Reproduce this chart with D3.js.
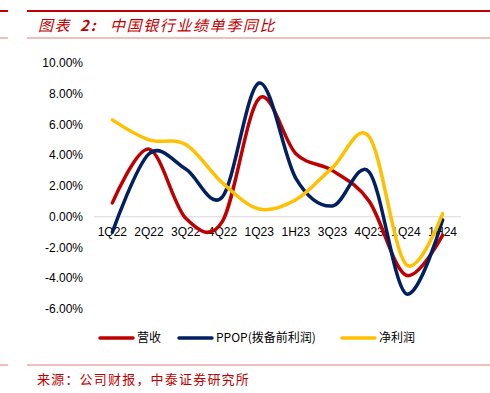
<!DOCTYPE html>
<html>
<head>
<meta charset="utf-8">
<script src="https://cdn.jsdelivr.net/npm/d3@7"></script>
<style>
  body { margin: 0; background: #fff; }
  svg { display: block; font-family: "Liberation Sans", "Noto Sans CJK SC", sans-serif; }
</style>
</head>
<body>
<div id="chart"></div>
<script>
const categories = ["1Q22", "2Q22", "3Q22", "4Q22", "1Q23", "1H23", "3Q23", "4Q23", "1Q24", "1H24"];
const revenue = [0.9, 4.4, -0.1, -0.3, 7.7, 4.1, 3.0, 1.0, -3.8, -1.2];
const ppop = [-1.0, 4.1, 3.1, 1.3, 8.7, 2.5, 0.7, 2.9, -5.0, -0.2];
const netProfit = [6.3, 5.0, 4.7, 2.2, 0.5, 1.1, 3.2, 5.2, -3.1, 0.2];
const yTicks = [-6, -4, -2, 0, 2, 4, 6, 8, 10];
const seriesNames = ["营收", "PPOP(拨备前利润)", "净利润"];

const width = 490;
const height = 393;
const darkRed = "#c00000";

const svg = d3.select("#chart").append("svg")
  .attr("width", width)
  .attr("height", height);

// header and footer rules
function rule(yPos, color, w) {
  svg.append("line").attr("x1", 0).attr("x2", 8).attr("y1", yPos).attr("y2", yPos)
    .attr("stroke", color).attr("stroke-width", w);
  svg.append("line").attr("x1", 27).attr("x2", width).attr("y1", yPos).attr("y2", yPos)
    .attr("stroke", color).attr("stroke-width", w);
}
rule(11, darkRed, 2);
rule(38, "#e08080", 1);
rule(365, "#e08080", 1);

// title, pieces placed like the original
const title = svg.append("text")
  .attr("y", 31)
  .attr("fill", darkRed)
  .style("font-family", "'Noto Sans CJK SC', sans-serif")
  .style("font-size", "15px")
  .style("font-style", "italic")
  .style("letter-spacing", "1.6px");
title.append("tspan").attr("x", 38).text("图表");
title.append("tspan").attr("x", 80).style("font-weight", "bold").style("letter-spacing", "2px").text("2:");
title.append("tspan").attr("x", 110).text("中国银行业绩单季同比");

svg.append("text")
  .attr("x", 37).attr("y", 384)
  .attr("fill", darkRed)
  .style("font-family", "'Noto Sans CJK SC', sans-serif")
  .style("font-size", "13px")
  .style("letter-spacing", "1.2px")
  .text("来源：公司财报，中泰证券研究所");

const x = d3.scalePoint().domain(categories).range([94, 461]).padding(0.5);
const y = d3.scaleLinear().domain([-6, 10]).range([309, 63]);

// y labels
svg.append("g")
  .selectAll("text")
  .data(yTicks)
  .join("text")
  .attr("x", 83)
  .attr("y", (d) => y(d) + 4)
  .attr("text-anchor", "end")
  .style("font-size", "12px")
  .attr("fill", "#000")
  .text((d) => d.toFixed(2) + "%");

// zero axis
svg.append("line")
  .attr("x1", 94).attr("x2", 461)
  .attr("y1", y(0)).attr("y2", y(0))
  .attr("stroke", "#d9d9d9").attr("stroke-width", 1);

const line = d3.line()
  .x((d, i) => x(categories[i]))
  .y((d) => y(d))
  .curve(d3.curveCardinal.tension(0));

const series = [
  { name: seriesNames[0], values: revenue, color: "#c00000" },
  { name: seriesNames[1], values: ppop, color: "#002060" },
  { name: seriesNames[2], values: netProfit, color: "#ffc000" },
];

// category labels (drawn under the lines)
svg.append("g")
  .selectAll("text")
  .data(categories)
  .join("text")
  .attr("x", (d) => x(d))
  .attr("y", 236)
  .attr("text-anchor", "middle")
  .style("font-size", "12px")
  .attr("fill", "#000")
  .text((d) => d);

svg.append("g")
  .selectAll("path")
  .data(series)
  .join("path")
  .attr("d", (s) => line(s.values))
  .attr("fill", "none")
  .attr("stroke", (s) => s.color)
  .attr("stroke-width", 3.5)
  .attr("stroke-linecap", "round");

// legend
const legendX = [100, 179, 342];
const legend = svg.append("g")
  .selectAll("g")
  .data(series)
  .join("g")
  .attr("transform", (d, i) => `translate(${legendX[i]},338)`);

legend.append("line")
  .attr("x1", 0).attr("x2", 33)
  .attr("stroke", (d) => d.color)
  .attr("stroke-width", 3.5)
  .attr("stroke-linecap", "round");

legend.append("text")
  .attr("x", 37).attr("y", 4)
  .style("font-family", "'Noto Sans CJK SC', sans-serif")
  .style("font-size", "12px")
  .attr("fill", "#000")
  .text((d) => d.name);
</script>
</body>
</html>
